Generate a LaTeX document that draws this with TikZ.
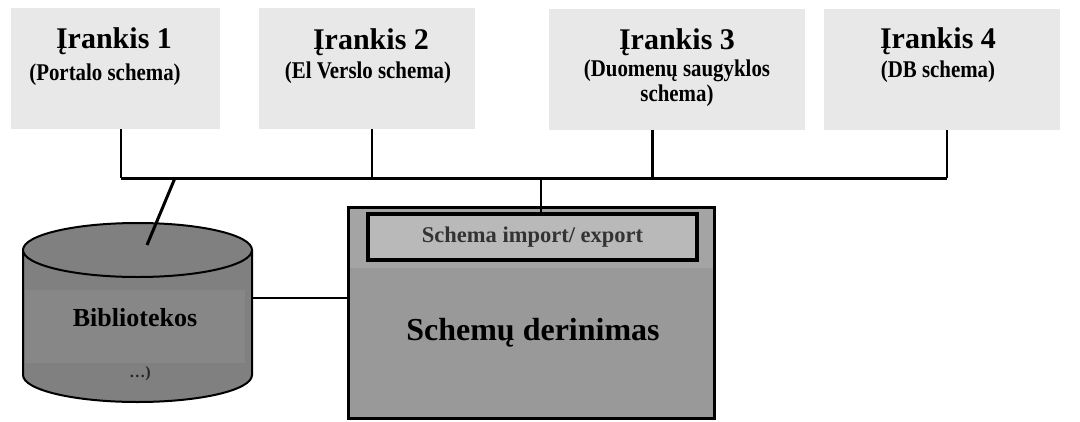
\documentclass[tikz,border=0pt]{standalone}
\usepackage{fontspec}
\setmainfont{Liberation Serif}
\newcommand{\narrowtext}[1]{\scalebox{0.87}[1]{#1}}
\begin{document}
\begin{tikzpicture}[x=1pt,y=-1pt,
  toolbox/.style={draw=none,fill=boxgray,minimum width=#1,minimum height=121pt,inner sep=0pt},
  title/.style={font=\bfseries\fontsize{30}{30}\selectfont,anchor=base,inner sep=0pt},
  subtitle/.style={font=\bfseries\fontsize{24}{24}\selectfont,anchor=base,inner sep=0pt},
  bus/.style={line width=3pt},
  link/.style={line width=1.8pt},
]
\definecolor{boxgray}{HTML}{E8E8E8}
\definecolor{cylgray}{HTML}{808080}
\definecolor{cylband}{HTML}{878787}
\definecolor{maingray}{HTML}{999999}
\definecolor{bandgray}{HTML}{A4A4A4}
\definecolor{impgray}{HTML}{B9B9B9}
\useasboundingbox (0,0) rectangle (1080,421);

% tool boxes
\node[toolbox=209pt] (t1) at (115.5,68.5) {};
\node[toolbox=216pt] (t2) at (367,68.5) {};
\node[toolbox=256pt] (t3) at (677,69) {};
\node[toolbox=236pt] (t4) at (942,69.5) {};

\node[title] (t1a) at (114,48) {Įrankis 1};
\node[subtitle] (t1b) at (105,80) {\narrowtext{(Portalo schema)}};
\node[title] (t2a) at (371,49) {Įrankis 2};
\node[subtitle] (t2b) at (368,78) {\narrowtext{(El Verslo schema)}};
\node[title] (t3a) at (677,49) {Įrankis 3};
\node[subtitle] (t3b) at (677,76) {\narrowtext{(Duomenų saugyklos}};
\node[subtitle] (t3c) at (677,101) {\narrowtext{schema)}};
\node[title] (t4a) at (938,48) {Įrankis 4};
\node[subtitle] (t4b) at (938,77) {\narrowtext{(DB schema)}};

% bus junctions
\coordinate (b1) at (121,178);
\coordinate (b2) at (372,178);
\coordinate (b3) at (652,178);
\coordinate (b4) at (947,178);
\coordinate (bc) at (541,178);
\coordinate (bd) at (175,178);

% library cylinder
\fill[cylgray] (23,250) rectangle (252,375);
\fill[cylgray] (137.5,375) ellipse[x radius=114.5,y radius=27];
\fill[cylband] (25,290) rectangle (245,363);
\draw[line width=2pt] (23,250) -- (23,375)
  arc[start angle=180,end angle=0,x radius=114.5,y radius=27] -- (252,250);
\draw[line width=2pt,fill=cylgray] (137.5,250) ellipse[x radius=114.5,y radius=27];
\coordinate (cyltop) at (147,245);
\coordinate (cylright) at (252,298);
\node[font=\bfseries\fontsize{26}{26}\selectfont,inner sep=0pt,anchor=base] (lib) at (135,326) {Bibliotekos};
\node[font=\bfseries\fontsize{16}{16}\selectfont,text=black!85,inner sep=0pt,anchor=base] (libdots) at (140,377) {…)};

% merging block
\node[draw,line width=3pt,fill=maingray,minimum width=366pt,minimum height=211pt,inner sep=0pt] (merge) at (531,312.5) {};
\fill[bandgray] (349.5,208.5) rectangle (712.5,268);
\node[draw,line width=3.5pt,fill=impgray,minimum width=329pt,minimum height=46pt,inner sep=0pt,
  font=\bfseries\fontsize{22.5}{22.5}\selectfont,text=black!80] (imp) at (532.5,237) {Schema import/ export};
\node[font=\bfseries\fontsize{32}{32}\selectfont,inner sep=0pt] (mergetext) at (533,333) {Schemų derinimas};

% connectors
\draw[link,line width=1.5pt] (b1 |- t1.south) -- (b1);
\draw[link,line width=1.5pt] (b2 |- t2.south) -- (b2);
\draw[link,line width=3pt] (b3 |- t3.south) -- (b3);
\draw[link,line width=1.5pt] (b4 |- t4.south) -- (b4);
\draw[bus] (b1) -- (b4);
\draw[link,line width=2.5pt] (bc) -- (bc |- imp.north);
\draw[link,line width=3pt] (bd) -- (cyltop);
\draw[link,line width=2.5pt] (cylright) -- (cylright -| merge.west);
\end{tikzpicture}
\end{document}
